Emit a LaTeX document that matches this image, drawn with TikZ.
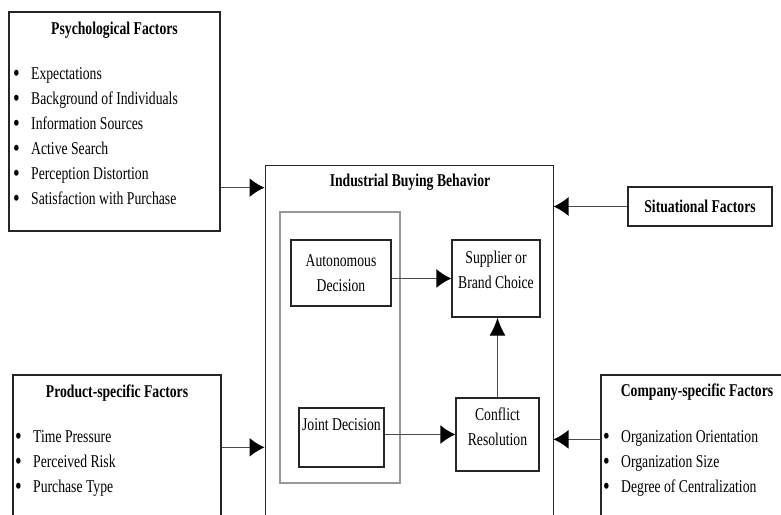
\documentclass[tikz,border=0pt]{standalone}
\usepackage{fontspec}
\setmainfont[FakeStretch=0.76]{Liberation Serif}
\usetikzlibrary{positioning,arrows.meta}

\newcommand{\bitem}[1]{\makebox[18pt][l]{\raisebox{-2.5pt}{\fontsize{25}{25}\selectfont\textbullet}}#1}

\begin{document}
\begin{tikzpicture}[
  x=1pt, y=-1pt,
  font=\fontsize{18}{25}\selectfont,
  box/.style={draw=black!85,line width=1.3pt,rectangle,inner sep=0pt},
  greybox/.style={draw=black!40,line width=1.2pt,rectangle,inner sep=0pt},
  head/.style={font=\fontsize{18}{25}\selectfont\bfseries},
  conn/.style={draw=black!70,line width=1.3pt,-{Latex[length=15pt,width=19pt,black]}}
]
\clip (0,0) rectangle (781,514);
\fill[white] (0,0) rectangle (781,514);

% outer factor boxes
\node[box,minimum width=211pt,minimum height=219pt] (psych) at (114.5,121.5) {};
\node[head] (psychT) at (114.5,30) {Psychological Factors};
\node[align=left,anchor=north west,inner sep=0pt] (psychL) at (13,67) {%
  \bitem{Expectations}\\
  \bitem{Background of Individuals}\\
  \bitem{Information Sources}\\
  \bitem{Active Search}\\
  \bitem{Perception Distortion}\\
  \bitem{Satisfaction with Purchase}};

\node[box,minimum width=144pt,minimum height=39pt] (sit) at (700,206.5) {};
\node[head] (sitT) at (sit) {Situational Factors};

\node[box,minimum width=208pt,minimum height=200pt] (prod) at (117,475) {};
\node[head] (prodT) at (117,393) {Product-specific Factors};
\node[align=left,anchor=north west,inner sep=0pt] (prodL) at (15,430) {%
  \bitem{Time Pressure}\\
  \bitem{Perceived Risk}\\
  \bitem{Purchase Type}};

\node[box,minimum width=200pt,minimum height=200pt] (comp) at (701,475) {};
\node[head] (compT) at (697,392) {Company-specific Factors};
\node[align=left,anchor=north west,inner sep=0pt] (compL) at (603,430) {%
  \bitem{Organization Orientation}\\
  \bitem{Organization Size}\\
  \bitem{Degree of Centralization}};

% industrial buying behavior
\node[box,line width=1pt,minimum width=288pt,minimum height=380pt] (main) at (409,355) {};
\node[head] (mainT) at (410,182) {Industrial Buying Behavior};
\node[greybox,minimum width=120pt,minimum height=271pt] (inner) at (340,347.5) {};

\node[box,minimum width=100pt,minimum height=66pt,align=center] (auto) at (341,273) {Autonomous\\Decision};
\node[box,minimum width=88pt,minimum height=77pt] (sup) at (496,278.5) {};
\node[align=center] (supT) at (496,270) {Supplier or\\Brand Choice};
\node[box,minimum width=85pt,minimum height=59pt] (joint) at (341.5,437.5) {};
\node (jointT) at (341.5,425) {Joint Decision};
\node[box,minimum width=83pt,minimum height=73pt] (confl) at (497.5,434.5) {};
\node[align=center] (conflT) at (497.5,427) {Conflict\\Resolution};

% connectors
\draw[conn] ([yshift=44pt]psych.south east) coordinate (p1) -- (p1 -| main.west);
\draw[conn] ([yshift=-73pt]prod.north east) coordinate (p2) -- (p2 -| main.west);
\draw[conn] (sit.west) -- (sit.west -| main.east);
\draw[conn] ([yshift=-65pt]comp.north west) coordinate (p3) -- (p3 -| main.east);
\draw[conn] (auto.east |- sup.west) -- (sup.west);
\draw[conn] (joint.east |- confl.west) -- (confl.west);
\draw[conn,-{Latex[length=18pt,width=16pt,black]}] (confl.north) -- (confl.north |- sup.south);
\end{tikzpicture}
\end{document}
